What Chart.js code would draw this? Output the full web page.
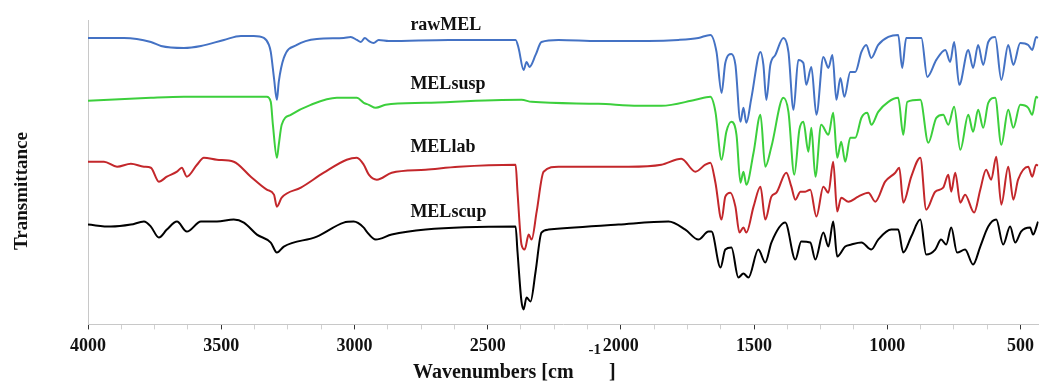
<!DOCTYPE html>
<html>
<head>
<meta charset="utf-8">
<script src="https://cdn.jsdelivr.net/npm/chart.js"></script>
<style>
  html, body { margin: 0; padding: 0; background: #fff; }
  #wrap { width: 1040px; height: 381px; }
</style>
</head>
<body>
<div id="wrap"><canvas id="ftirChart"></canvas></div>
<script>
  // FTIR spectra, wavenumber [cm-1] and offset transmittance (a.u.)
  const rawMelWn = [4000,3865,3764,3726,3640,3576,3490,3426,3378,3340,3321,3314,3302,3291,3284,3265,3216,3141,3040,3014,2991,2976,2961,2946,2928,2909,2871,2646,2459,2395,2384,2365,2354,2343,2320,2298,2234,2084,1896,1784,1709,1664,1641,1622,1608,1585,1570,1551,1540,1529,1510,1476,1465,1454,1439,1420,1390,1371,1352,1334,1315,1304,1285,1266,1240,1221,1206,1191,1176,1161,1139,1120,1097,1079,1060,1034,996,959,944,929,872,850,816,782,764,749,730,696,678,659,640,621,595,572,546,527,501,471,456,441,434];
  const rawMelT = [287,287,283,279,277,279,285,289,289,287,280,273,247,225,243,267,280,286,287,288,285,283,287,284,282,285,284,285,285,285,277,255,263,258,270,283,285,284,284,285,287,290,273,232,262,271,260,203,217,202,227,273,260,225,260,270,287,273,215,265,262,240,258,210,268,257,270,225,247,228,253,253,273,280,267,280,288,290,257,287,287,248,265,275,263,283,240,275,257,280,260,283,288,245,280,260,282,280,275,288,287];

  const melSuspWn = [4000,3764,3640,3329,3314,3306,3291,3284,3273,3239,3164,3066,2991,2965,2946,2920,2883,2733,2373,2335,2084,1934,1848,1720,1664,1645,1622,1604,1585,1566,1551,1540,1529,1502,1476,1458,1435,1390,1371,1349,1330,1315,1296,1285,1270,1248,1221,1203,1188,1173,1158,1139,1120,1097,1075,1060,1034,996,959,940,925,876,846,816,790,771,749,726,696,678,659,640,621,595,572,546,527,501,471,456,441,434];
  const melSuspT = [224,227,228,228,223,200,167,180,200,210,220,227,227,222,220,217,220,222,225,223,221,219,219,225,228,213,165,193,203,190,142,153,140,172,210,158,178,227,213,150,195,203,173,197,148,200,190,212,167,183,163,187,187,207,212,200,213,223,227,190,223,225,182,207,210,200,218,175,210,193,215,197,222,227,180,215,197,220,217,210,228,227];

  const melLabWn = [4000,3940,3891,3839,3790,3764,3734,3704,3666,3648,3629,3591,3565,3516,3453,3389,3329,3302,3291,3273,3201,3115,3029,2991,2965,2946,2916,2860,2733,2609,2395,2388,2373,2361,2346,2335,2316,2290,2234,1971,1848,1773,1720,1683,1664,1645,1622,1608,1589,1570,1555,1540,1529,1502,1476,1458,1435,1416,1379,1360,1345,1326,1308,1289,1266,1240,1221,1203,1188,1173,1146,1109,1071,1045,1008,970,955,940,910,876,854,820,790,771,760,745,726,708,674,651,629,610,591,572,546,527,509,471,456,441,434];
  const melLabT = [163,163,158,161,158,157,143,148,153,157,148,160,167,165,163,148,135,130,118,127,137,152,165,167,160,150,145,152,155,158,160,133,80,75,90,85,113,153,158,158,160,166,153,160,162,142,105,128,132,118,92,97,92,118,138,105,128,132,152,138,125,133,133,135,108,138,132,163,113,127,123,128,132,123,143,152,157,122,148,167,115,133,137,150,133,152,122,130,112,135,155,145,168,120,158,125,145,158,148,160,159];

  const melScupWn = [4000,3914,3839,3790,3764,3734,3704,3666,3629,3576,3516,3453,3415,3366,3314,3291,3265,3141,3040,3003,2965,2954,2920,2860,2733,2395,2388,2373,2365,2354,2339,2320,2298,2271,2009,1821,1758,1709,1671,1660,1626,1608,1585,1559,1540,1521,1484,1458,1435,1383,1345,1323,1289,1270,1240,1221,1203,1188,1158,1135,1097,1060,1034,985,959,940,910,876,854,820,798,779,760,738,708,678,651,621,591,565,539,520,498,464,453,434];
  const melScupT = [100,98,100,103,98,87,95,103,93,103,103,105,102,90,82,72,78,88,102,103,97,93,85,90,95,98,73,23,15,27,23,53,92,95,100,103,95,85,93,93,57,75,77,47,51,47,75,62,82,102,65,83,82,65,92,78,103,68,78,80,82,75,85,95,95,72,88,105,70,75,85,80,97,72,75,60,78,98,105,80,98,82,93,97,90,103];

  const seriesNames = ['rawMEL', 'MELsusp', 'MELlab', 'MELscup'];
  const seriesColors = ['#4472c4', '#3ccf3c', '#c3272b', '#000000'];
  const xTickLabels = [4000, 3500, 3000, 2500, 2000, 1500, 1000, 500];

  const toPoints = (wn, t) => wn.map((w, i) => ({ x: w, y: t[i] }));
  const spectra = [
    toPoints(rawMelWn, rawMelT),
    toPoints(melSuspWn, melSuspT),
    toPoints(melLabWn, melLabT),
    toPoints(melScupWn, melScupT)
  ];

  const serif = '"Liberation Serif", "Times New Roman", serif';

  // series names, axis titles (with the cm-1 superscript)
  const textPlugin = {
    id: 'spectrumText',
    afterDraw(chart) {
      const { ctx, scales } = chart;
      const nameT = [295, 236, 173, 108];
      ctx.save();
      ctx.fillStyle = '#111';
      ctx.font = 'bold 18px ' + serif;
      ctx.textBaseline = 'alphabetic';
      ctx.textAlign = 'left';
      const nx = scales.x.getPixelForValue(2790);
      seriesNames.forEach((name, i) => {
        ctx.fillText(name, nx, scales.y.getPixelForValue(nameT[i]));
      });

      // x title
      const main = 'Wavenumbers [cm';
      let tx = 413;
      ctx.font = 'bold 20px ' + serif;
      ctx.fillText(main, tx, 378);
      tx += ctx.measureText(main).width + 15;
      ctx.font = 'bold 15px ' + serif;
      ctx.fillText('-1', tx, 354);
      tx += ctx.measureText('-1').width + 8;
      ctx.font = 'bold 20px ' + serif;
      ctx.fillText(']', tx, 378);

      // y title
      ctx.translate(22, 191);
      ctx.rotate(-Math.PI / 2);
      ctx.textAlign = 'center';
      ctx.textBaseline = 'middle';
      ctx.font = 'bold 19px ' + serif;
      ctx.fillText('Transmittance', 0, 0);
      ctx.restore();
    }
  };

  const ctx = document.getElementById('ftirChart').getContext('2d');
  new Chart(ctx, {
    type: 'line',
    data: {
      datasets: spectra.map((pts, i) => ({
        label: seriesNames[i],
        data: pts,
        borderColor: seriesColors[i],
        borderWidth: 2,
        pointRadius: 0,
        fill: false,
        cubicInterpolationMode: 'monotone'
      }))
    },
    options: {
      responsive: true,
      maintainAspectRatio: false,
      animation: false,
      layout: { padding: { left: 80, top: 20, right: -3, bottom: 18 } },
      plugins: {
        legend: { display: false },
        tooltip: { enabled: false }
      },
      scales: {
        x: {
          type: 'linear',
          reverse: true,
          min: 432,
          max: 4000,
          border: { display: true, color: '#c8c8c8', width: 1 },
          grid: {
            display: true,
            drawOnChartArea: false,
            drawTicks: true,
            tickLength: 5,
            tickColor: (c) => (c.tick && xTickLabels.includes(c.tick.value)) ? '#333' : '#d0d0d0'
          },
          ticks: {
            stepSize: 125,
            includeBounds: false,
            autoSkip: false,
            maxRotation: 0,
            padding: 6,
            color: '#111',
            font: { family: serif, size: 18, weight: 'bold' },
            callback: (v) => xTickLabels.includes(v) ? String(v) : ''
          }
        },
        y: {
          min: 0,
          max: 305,
          border: { display: true, color: '#c8c8c8', width: 1 },
          grid: { display: false },
          ticks: { display: false }
        }
      }
    },
    plugins: [textPlugin]
  });
</script>
</body>
</html>
